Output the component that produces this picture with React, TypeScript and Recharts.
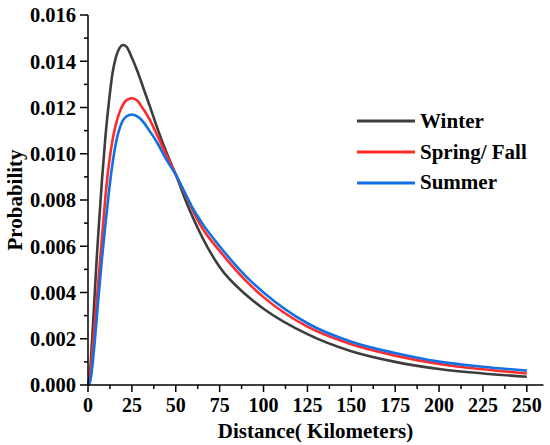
import { Line, LineChart, XAxis, YAxis } from "recharts";

const DISTANCE = [
  0, 1, 2, 3, 4, 5, 6, 8, 10, 12, 14, 16, 18, 20, 22, 25, 28, 30, 35, 40, 45, 50, 55, 60, 65, 75, 90,
  100, 125, 150, 175, 200, 225, 250,
];
const WINTER = [
  0, 0.0004, 0.0015, 0.0028, 0.0042, 0.0055, 0.0067, 0.0089, 0.0108, 0.0123, 0.0135, 0.0142, 0.01458,
  0.0147, 0.01462, 0.01415, 0.0136, 0.01318, 0.0121, 0.011, 0.01, 0.0091, 0.0081, 0.0072, 0.0064,
  0.0051, 0.0039, 0.0033, 0.0022, 0.00146, 0.001, 0.00069, 0.0005, 0.00036,
];
const SPRING_FALL = [
  0, 0.0003, 0.001, 0.0019, 0.0028, 0.0037, 0.0046, 0.0064, 0.0082, 0.0096, 0.0106, 0.0113, 0.0118,
  0.01213, 0.01232, 0.0124, 0.0123, 0.0121, 0.0115, 0.0107, 0.0099, 0.0091, 0.0083, 0.0075, 0.0068,
  0.0058, 0.0045, 0.0038, 0.00252, 0.00176, 0.00127, 0.00091, 0.00068, 0.0005,
];
const SUMMER = [
  0, 0.0001, 0.0005, 0.0012, 0.002, 0.0029, 0.0038, 0.0055, 0.007, 0.0084, 0.0096, 0.0105, 0.0111,
  0.01145, 0.01162, 0.0117, 0.01162, 0.0115, 0.011, 0.0104, 0.0097, 0.0091, 0.00835, 0.0076, 0.007,
  0.006, 0.0047, 0.004, 0.00267, 0.00187, 0.00138, 0.00101, 0.00079, 0.00062,
];

const X_TICKS = [0, 12.5, 25, 37.5, 50, 62.5, 75, 87.5, 100, 112.5, 125, 137.5, 150, 162.5, 175, 187.5, 200, 212.5, 225, 237.5, 250];
const X_MAJOR = [0, 25, 50, 75, 100, 125, 150, 175, 200, 225, 250];
const Y_TICKS = [0, 0.001, 0.002, 0.003, 0.004, 0.005, 0.006, 0.007, 0.008, 0.009, 0.01, 0.011, 0.012, 0.013, 0.014, 0.015, 0.016];
const Y_MAJOR = [0, 0.002, 0.004, 0.006, 0.008, 0.01, 0.012, 0.014, 0.016];

const SERIES = [
  { key: "winter", label: "Winter", stroke: "#3d3d3d" },
  { key: "springFall", label: "Spring/ Fall", stroke: "#ff2b2b" },
  { key: "summer", label: "Summer", stroke: "#1170e4" },
];

const FONT = "'Liberation Serif', 'Times New Roman', serif";
const AXIS_X = 88; // left axis pixel
const AXIS_Y = 385; // bottom axis pixel

const data = DISTANCE.map((d, i) => ({
  distance: d,
  winter: WINTER[i],
  springFall: SPRING_FALL[i],
  summer: SUMMER[i],
}));

function XTick(props: any) {
  const { x, payload } = props;
  const major = X_MAJOR.includes(payload.value);
  return (
    <g>
      <line x1={x} x2={x} y1={AXIS_Y} y2={AXIS_Y + (major ? 7 : 4)} stroke="#000" strokeWidth={1.5} />
      {major && (
        <text x={x} y={AXIS_Y + 13} dy="0.71em" textAnchor="middle" fontFamily={FONT} fontWeight="bold" fontSize={20} fill="#000">
          {payload.value}
        </text>
      )}
    </g>
  );
}

function YTick(props: any) {
  const { y, payload } = props;
  const major = Y_MAJOR.some((v) => Math.abs(v - payload.value) < 1e-9);
  return (
    <g>
      <line x1={AXIS_X - (major ? 8 : 4)} x2={AXIS_X} y1={y} y2={y} stroke="#000" strokeWidth={1.5} />
      {major && (
        <text x={AXIS_X - 12} y={y} dy="0.355em" textAnchor="end" fontFamily={FONT} fontWeight="bold" fontSize={20.5} fill="#000">
          {payload.value.toFixed(3)}
        </text>
      )}
    </g>
  );
}

function LegendBox() {
  return (
    <div
      style={{
        position: "absolute",
        left: 357,
        top: 106,
        fontFamily: FONT,
        fontWeight: "bold",
        fontSize: 21,
        color: "#000",
      }}
    >
      {SERIES.map((s) => (
        <div key={s.key} style={{ display: "flex", alignItems: "center", height: 30.8 }}>
          <svg width={63} height={6}>
            <line x1={0} x2={58} y1={3} y2={3} stroke={s.stroke} strokeWidth={3} />
          </svg>
          <span style={{ lineHeight: 1 }}>{s.label}</span>
        </div>
      ))}
    </div>
  );
}

export default function App() {
  return (
    <div style={{ position: "absolute", left: 0, top: 0, width: 550, height: 445, background: "#fff" }}>
      <LineChart width={550} height={445} data={data} margin={{ top: 15, right: 6.5, left: 0, bottom: 0 }}>
        <XAxis
          dataKey="distance"
          type="number"
          domain={[0, 259.5]}
          ticks={X_TICKS}
          interval={0}
          height={60}
          tickLine={false}
          tick={<XTick />}
          axisLine={{ stroke: "#000", strokeWidth: 1.5 }}
          label={() => (
            <text x={315.5} y={438} textAnchor="middle" fontFamily={FONT} fontWeight="bold" fontSize={21} fill="#000">
              Distance( Kilometers)
            </text>
          )}
        />
        <YAxis
          type="number"
          domain={[0, 0.016]}
          ticks={Y_TICKS}
          interval={0}
          width={88}
          tickLine={false}
          tick={<YTick />}
          axisLine={{ stroke: "#000", strokeWidth: 1.5 }}
          label={() => (
            <text
              x={15}
              y={200}
              transform="rotate(-90 15 200)"
              textAnchor="middle"
              dominantBaseline="central"
              fontFamily={FONT}
              fontWeight="bold"
              fontSize={21}
              fill="#000"
            >
              Probability
            </text>
          )}
        />
        {SERIES.map((s) => (
          <Line
            key={s.key}
            type="monotone"
            dataKey={s.key}
            name={s.label}
            stroke={s.stroke}
            strokeWidth={2.6}
            dot={false}
            isAnimationActive={false}
          />
        ))}
      </LineChart>
      <LegendBox />
    </div>
  );
}
